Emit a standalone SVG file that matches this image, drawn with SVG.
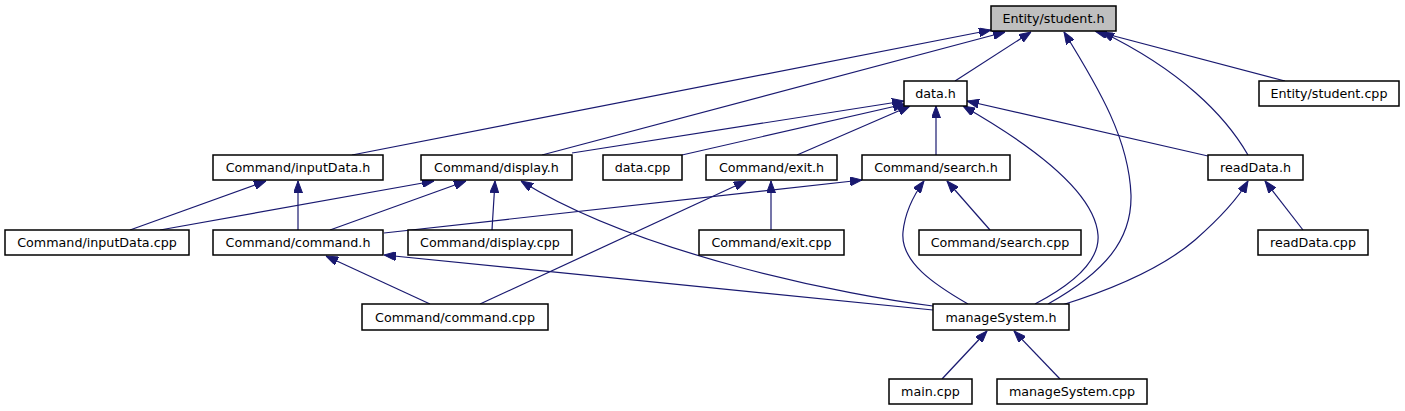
<svg xmlns="http://www.w3.org/2000/svg" width="1405" height="411" viewBox="0 0 1405 411">
<style>
.node rect{fill:#ffffff;stroke:#000000;stroke-width:1.5}
.node.root rect{fill:#bfbfbf}
.node text{font-family:"DejaVu Sans","Liberation Sans",sans-serif;font-size:12.7px;fill:#000000;text-anchor:middle}
.edges path{fill:none;stroke:#191970;stroke-width:1.2;marker-end:url(#arr)}
</style>
<defs>
<marker id="arr" viewBox="0 0 12 9" refX="12" refY="4.5" markerWidth="12" markerHeight="9" markerUnits="userSpaceOnUse" orient="auto">
<path d="M0,0 L12,4.5 L0,9 Z" fill="#191970" stroke="#191970" stroke-width="1"/>
</marker>
</defs>
<rect width="1405" height="411" fill="#ffffff"/>
<g class="edges" id="connectors">
<path d="M955,81 L1031,32"/>
<path d="M352,155 L991,30"/>
<path d="M542,155 L1005,32"/>
<path d="M1048,304 C1105,272 1132,240 1131,195 C1129,140 1100,90 1064,32"/>
<path d="M1248,155 C1225,115 1180,70 1102,32"/>
<path d="M1285,81 L1095,31"/>
<path d="M572,153 L904,101"/>
<path d="M682,155 L905,104"/>
<path d="M797,155 L910,106"/>
<path d="M936,155 L936,106"/>
<path d="M1208,156 L967,101"/>
<path d="M1035,304 C1075,283 1100,260 1098,235 C1095,195 1040,150 963,106"/>
<path d="M130,230 L266,181"/>
<path d="M298,230 L298,181"/>
<path d="M160,230 L434,181"/>
<path d="M330,230 L466,181"/>
<path d="M492,230 L495,181"/>
<path d="M933,306 C850,296 640,255 521,181"/>
<path d="M771,230 L771,181"/>
<path d="M480,304 L746,181"/>
<path d="M384,233 L862,180"/>
<path d="M990,230 L947,181"/>
<path d="M968,304 C935,285 900,262 903,232 C905,212 913,196 924,181"/>
<path d="M1303,230 L1265,181"/>
<path d="M1062,305 C1110,290 1160,270 1195,240 C1220,218 1237,200 1248,181"/>
<path d="M430,304 L326,256"/>
<path d="M933,310 L384,255"/>
<path d="M942,379 L987,331"/>
<path d="M1060,379 L1014,331"/>
</g>
<g class="node root" id="n_student_h"><rect x="991" y="6" width="125" height="25"/><text x="1053.5" y="23">Entity/student.h</text></g>
<g class="node" id="n_data_h"><rect x="904" y="81" width="63" height="25"/><text x="935.5" y="98">data.h</text></g>
<g class="node" id="n_student_cpp"><rect x="1259" y="81" width="140" height="25"/><text x="1329" y="98">Entity/student.cpp</text></g>
<g class="node" id="n_inputData_h"><rect x="213" y="155" width="170" height="25"/><text x="298" y="172">Command/inputData.h</text></g>
<g class="node" id="n_display_h"><rect x="421" y="155" width="151" height="25"/><text x="496.5" y="172">Command/display.h</text></g>
<g class="node" id="n_data_cpp"><rect x="603" y="155" width="79" height="25"/><text x="642.5" y="172">data.cpp</text></g>
<g class="node" id="n_exit_h"><rect x="706" y="155" width="131" height="25"/><text x="771.5" y="172">Command/exit.h</text></g>
<g class="node" id="n_search_h"><rect x="862" y="155" width="148" height="25"/><text x="936" y="172">Command/search.h</text></g>
<g class="node" id="n_readData_h"><rect x="1208" y="155" width="95" height="25"/><text x="1255.5" y="172">readData.h</text></g>
<g class="node" id="n_inputData_cpp"><rect x="5" y="230" width="184" height="25"/><text x="97" y="247">Command/inputData.cpp</text></g>
<g class="node" id="n_command_h"><rect x="213" y="230" width="170" height="25"/><text x="298" y="247">Command/command.h</text></g>
<g class="node" id="n_display_cpp"><rect x="408" y="230" width="164" height="25"/><text x="490" y="247">Command/display.cpp</text></g>
<g class="node" id="n_exit_cpp"><rect x="699" y="230" width="145" height="25"/><text x="771.5" y="247">Command/exit.cpp</text></g>
<g class="node" id="n_search_cpp"><rect x="919" y="230" width="162" height="25"/><text x="1000" y="247">Command/search.cpp</text></g>
<g class="node" id="n_readData_cpp"><rect x="1258" y="230" width="110" height="25"/><text x="1313" y="247">readData.cpp</text></g>
<g class="node" id="n_command_cpp"><rect x="362" y="304" width="186" height="26"/><text x="455" y="321.5">Command/command.cpp</text></g>
<g class="node" id="n_manageSystem_h"><rect x="933" y="304" width="136" height="26"/><text x="1001" y="321.5">manageSystem.h</text></g>
<g class="node" id="n_main_cpp"><rect x="889" y="379" width="83" height="25"/><text x="930.5" y="396">main.cpp</text></g>
<g class="node" id="n_manageSystem_cpp"><rect x="997" y="379" width="150" height="25"/><text x="1072" y="396">manageSystem.cpp</text></g>
</svg>
